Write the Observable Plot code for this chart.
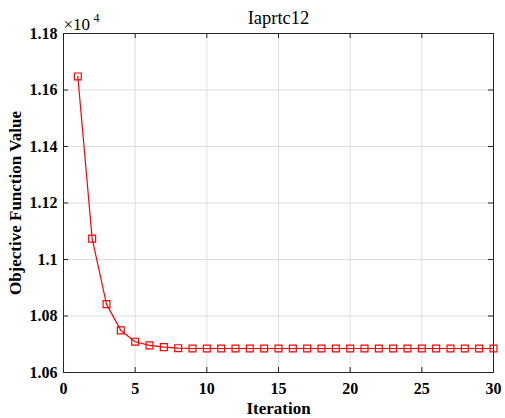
<!DOCTYPE html>
<html><head><meta charset="utf-8">
<script src="https://cdn.jsdelivr.net/npm/d3@7"></script>
<script src="https://cdn.jsdelivr.net/npm/@observablehq/plot@0.6"></script>
<style>body{margin:0;background:#fff;} svg{display:block;}</style>
</head><body><div id="chart"></div>
<script>
const iterations = d3.range(1, 31);
const objective = [1.1648, 1.1074, 1.0842, 1.0749, 1.0709, 1.0696, 1.0690, 1.0686, 1.0685, 1.0685,
  1.0685, 1.0685, 1.0685, 1.0685, 1.0685, 1.0685, 1.0685, 1.0685, 1.0685, 1.0685,
  1.0685, 1.0685, 1.0685, 1.0685, 1.0685, 1.0685, 1.0685, 1.0685, 1.0685, 1.0685];
const xTicks = [0, 5, 10, 15, 20, 25, 30];
const yTicks = [1.06, 1.08, 1.1, 1.12, 1.14, 1.16, 1.18];
const yTickLabels = ["1.06", "1.08", "1.1", "1.12", "1.14", "1.16", "1.18"];
const titleText = "Iaprtc12";
const xLabel = "Iteration";
const yLabel = "Objective Function Value";
const data = iterations.map((it, i) => ({it, v: objective[i]}));

const W = 505, H = 418, mL = 63, mR = 12, mT = 33, mB = 46;
const fw = W - mL - mR, fh = H - mT - mB, tk = 5;
const axisColor = "#262626";
const font = "'Liberation Serif', 'Times New Roman', serif";

const chart = Plot.plot({
  width: W, height: H,
  marginLeft: mL, marginRight: mR, marginTop: mT, marginBottom: mB,
  style: {fontFamily: font, background: "#fff"},
  x: {domain: [0, 30]},
  y: {domain: [1.06, 1.18]},
  marks: [
    Plot.gridX(xTicks, {stroke: "#dedede", strokeOpacity: 1}),
    Plot.gridY(yTicks, {stroke: "#dedede", strokeOpacity: 1}),
    Plot.frame({stroke: axisColor, strokeWidth: 1}),
    Plot.tickX(xTicks, {x: d => d, stroke: axisColor, insetTop: fh - tk}),
    Plot.tickX(xTicks, {x: d => d, stroke: axisColor, insetBottom: fh - tk}),
    Plot.tickY(yTicks, {y: d => d, stroke: axisColor, insetRight: fw - tk}),
    Plot.tickY(yTicks, {y: d => d, stroke: axisColor, insetLeft: fw - tk}),
    Plot.axisX(xTicks, {tickSize: 0, tickPadding: 10, fontSize: 16, fontWeight: "bold", fill: "#000", label: null}),
    Plot.axisY(yTicks, {tickSize: 0, tickPadding: 6, fontSize: 16, fontWeight: "bold", fill: "#000",
      tickFormat: (d) => yTickLabels[yTicks.indexOf(d)], label: null}),
    Plot.line(data, {x: "it", y: "v", stroke: "#ff0000", strokeWidth: 1.2}),
    Plot.dot(data, {x: "it", y: "v", symbol: "square", r: 3.9, stroke: "#ff0000", strokeWidth: 1.2, fill: "none"}),
    Plot.text([xLabel], {frameAnchor: "bottom", lineAnchor: "middle", dy: 36.5, text: d => d, fontSize: 17, fontWeight: "bold", fill: "#000"}),
    Plot.text([yLabel], {frameAnchor: "left", textAnchor: "middle", lineAnchor: "middle", dx: -48, rotate: -90, text: d => d, fontSize: 17, fontWeight: "bold", fill: "#000"}),
    Plot.text([titleText], {frameAnchor: "top", lineAnchor: "middle", dy: -15, text: d => d, fontSize: 18.5, fill: "#000"}),
    Plot.text(["×10"], {frameAnchor: "top-left", lineAnchor: "middle", dx: 0, dy: -8.5, text: d => d, textAnchor: "start", fontSize: 17, fill: "#000"}),
    Plot.text(["4"], {frameAnchor: "top-left", lineAnchor: "middle", dx: 30, dy: -15, text: d => d, textAnchor: "start", fontSize: 12, fill: "#000"})
  ]
});
document.getElementById("chart").appendChild(chart);
</script>
</body></html>
